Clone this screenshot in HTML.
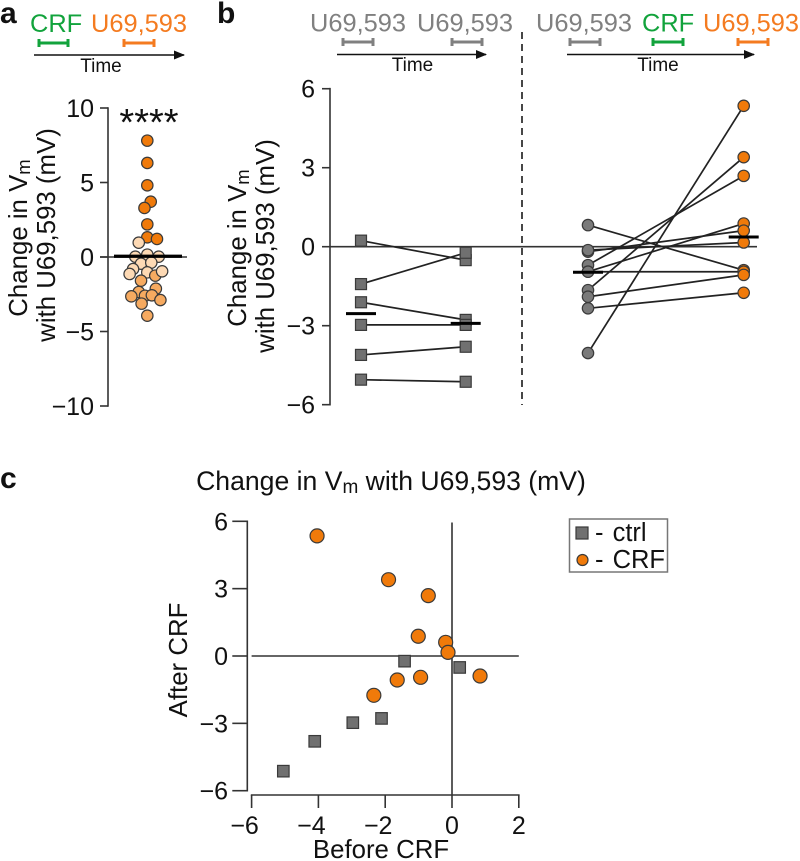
<!DOCTYPE html>
<html>
<head>
<meta charset="utf-8">
<style>
html,body{margin:0;padding:0;background:#fff;}
svg{display:block;font-family:"Liberation Sans",Arial,sans-serif;}
</style>
</head>
<body>
<svg id="fig" width="800" height="861" viewBox="0 0 800 861" xmlns="http://www.w3.org/2000/svg">
<defs>
<marker id="ah" markerWidth="11" markerHeight="9" refX="10" refY="4.5" orient="auto" markerUnits="userSpaceOnUse"><path d="M0 0L11 4.5L0 9Z" fill="#111"/></marker>
</defs>
<rect width="800" height="861" fill="#fff"/>
<g fill="#111" font-weight="bold" font-size="30">
<text x="0" y="23">a</text>
<text x="217" y="23">b</text>
<text x="0" y="488">c</text>
</g>
<g font-size="25.4">
<text x="30" y="32" fill="#12a33c">CRF</text>
<text x="91" y="32" fill="#f47b20">U69,593</text>
<text x="310" y="31.5" fill="#808080">U69,593</text>
<text x="417" y="31.5" fill="#808080">U69,593</text>
<text x="536" y="31.5" fill="#808080">U69,593</text>
<text x="642" y="31.5" fill="#12a33c">CRF</text>
<text x="703" y="31.5" fill="#f47b20">U69,593</text>
</g>
<g font-size="19" fill="#111" text-anchor="middle">
<text x="101" y="72">Time</text>
<text x="412.5" y="71">Time</text>
<text x="658" y="71">Time</text>
</g>
<g stroke="#111" stroke-width="1.6" marker-end="url(#ah)" fill="none">
<line x1="34" y1="55" x2="184" y2="55"/>
<line x1="337" y1="54.5" x2="486" y2="54.5"/>
<line x1="567" y1="54.5" x2="754" y2="54.5"/>
</g>
<g fill="none" stroke-width="3">
<path stroke="#12a33c" d="M39 39V47M39 43H68M68 39V47"/>
<path stroke="#f47b20" d="M124 39V47M124 43H154M154 39V47"/>
<path stroke="#808080" d="M343 38V46M343 42H373M373 38V46"/>
<path stroke="#808080" d="M452 38V46M452 42H482M482 38V46"/>
<path stroke="#808080" d="M570 38V46M570 42H600M600 38V46"/>
<path stroke="#12a33c" d="M653 38V46M653 42H683M683 38V46"/>
<path stroke="#f47b20" d="M738 38V46M738 42H768M768 38V46"/>
</g>
<line x1="522" y1="32" x2="522" y2="405" stroke="#333" stroke-width="1.8" stroke-dasharray="7 5"/>
<g font-size="25.8" fill="#111" text-anchor="middle">
<text transform="translate(27,238) rotate(-90)">Change in V<tspan font-size="18.5" dy="3">m</tspan></text>
<text transform="translate(55,235) rotate(-90)">with U69,593 (mV)</text>
<text transform="translate(246,248) rotate(-90)">Change in V<tspan font-size="18.5" dy="3">m</tspan></text>
<text transform="translate(274,246) rotate(-90)">with U69,593 (mV)</text>
<text transform="translate(187,660) rotate(-90)">After CRF</text>
<text x="381" y="858">Before CRF</text>
<text x="391" y="490" font-size="26.6">Change in V<tspan font-size="19" dy="3">m</tspan><tspan dy="-3"> with U69,593 (mV)</tspan></text>
</g>
<text x="149" y="135" font-size="38" fill="#111" text-anchor="middle">****</text>
<g id="panelA"></g>
<g id="panelB"></g>
<g id="panelC"></g>
<g>
<rect x="569.5" y="519" width="98" height="53" fill="#fff" stroke="#777" stroke-width="1.5"/>
<rect x="576" y="527" width="12" height="12" fill="#707070" stroke="#3a3a3a" stroke-width="1.2"/>
<text x="595" y="541" font-size="25.5" word-spacing="2" fill="#111">- ctrl</text>
<circle cx="582.5" cy="560" r="5.5" fill="#f07a0a" stroke="#3a3a3a" stroke-width="1.2"/>
<text x="595" y="568" font-size="25.5" word-spacing="2" fill="#111">- CRF</text>
</g>
</svg>
<script>
// Panel a: change in Vm values, with swarm offset in dot radii
var swarmValues = [7.81,6.31,4.81,3.71,3.29,2.19,1.32,1.21,0.96,0.02,0.16,0.02,-0.45,-0.38,-0.81,-1.14,-1.03,-1.25,-0.96,-1.59,-2.13,-2.35,-2.64,-2.60,-2.57,-2.89,-3.13,-3.94];
var swarmOffsets = [0,0,0,0.6,-0.5,0,0,1.7,-1.5,-2.1,0,2,-1.1,0.7,-2.5,-3.1,0,1.4,2.6,-1.1,1.5,-1.5,-2.8,-0.4,0.8,2.3,-1,0];
var swarmMedian = [0.05];
var axisATicks = [10,5,0,-5,-10];

// Panel b: paired values
var ctrlBefore = [0.23,-1.42,-2.11,-2.97,-4.11,-5.05];
var ctrlAfter = [-0.51,-0.23,-2.78,-2.97,-3.80,-5.13];
var ctrlMedians = [-2.54,-2.91];
var crfBefore = [-4.04,-1.65,-0.70,-0.95,-0.19,-0.13,0.82,-0.95,-1.90,-2.34];
var crfAfter = [5.35,3.40,2.69,0.88,0.61,0.16,-0.89,-0.95,-1.07,-1.75];
var crfMedians = [-0.97,0.37];
var axisBTicks = [6,3,0,-3,-6];

// Panel c: scatter values
var scatterCrfX = [-4.04,-1.90,-0.71,-1.01,-0.19,-0.12,0.84,-0.94,-1.64,-2.34];
var scatterCrfY = [5.35,3.40,2.69,0.88,0.61,0.16,-0.89,-0.95,-1.07,-1.75];
var axisCXTicks = [-6,-4,-2,0,2];
var axisCYTicks = [6,3,0,-3,-6];

var NS = 'http://www.w3.org/2000/svg';
var DARK = '#333';
function mk(tag, parent, attrs) {
  var e = document.createElementNS(NS, tag);
  for (var k in attrs) e.setAttribute(k, attrs[k]);
  parent.appendChild(e);
  return e;
}
function fmt(v) { return v < 0 ? '\u2212' + Math.abs(v) : String(v); }

// ---------- axis functions
function yA(v) { return 257 - v * 14.9; }
function xA(o) { return 147.3 + o * 5.7; }
function yB(v) { return 246.7 - v * 26.33; }
function xC(v) { return 452 + v * 33.4; }
function yC(v) { return 656 - v * 22.45; }
var xCtrlBefore = 361, xCtrlAfter = 465.7, xCrfBefore = 588, xCrfAfter = 743.7;

function line(parent, x1, y1, x2, y2, w, c) {
  return mk('line', parent, {x1:x1, y1:y1, x2:x2, y2:y2, stroke:c || DARK, 'stroke-width':w || 1.6});
}
function yAxis(parent, ticks, yf, xAxis, tickLen, labelRight, baseOff) {
  var axis = line(parent, xAxis, yf(ticks[0]) - 0.8, xAxis, yf(ticks[ticks.length - 1]) + 0.8);
  
  
  ticks.forEach(function (t) {
    var tk = line(parent, xAxis - tickLen, yf(t), xAxis, yf(t));
    
    
    var lb = mk('text', parent, {x:labelRight, y:yf(t) + baseOff, 'font-size':25, fill:'#111', 'text-anchor':'end'});
    lb.textContent = fmt(t);
    
    
  });
}
function square(parent, x, y, s) {
  return mk('rect', parent, {x:x - s / 2, y:y - s / 2, width:s, height:s, fill:'#707070', stroke:'#3a3a3a', 'stroke-width':1.2});
}
function dot(parent, x, y, r, fill) {
  return mk('circle', parent, {cx:x, cy:y, r:r, fill:fill, stroke:'#3a3a3a', 'stroke-width':1.2});
}

// ---------- Panel a
var gA = document.getElementById('panelA');
yAxis(gA, axisATicks, yA, 108, 8, 94, 9);
var zeroA = line(gA, 100, yA(0), 187, yA(0));


function swarmColor(v) {
  if (v >= 1.1) return '#f07a0a';
  if (v >= -1.2) return '#fdd9b4';
  return '#f6aa60';
}
swarmValues.forEach(function (v, i) {
  var c = dot(gA, xA(swarmOffsets[i]), yA(v), 5.7, swarmColor(v));
  
  
});
var medA = line(gA, 114, yA(swarmMedian[0]), 182, yA(swarmMedian[0]), 3.2, '#000');



// ---------- Panel b
var gB = document.getElementById('panelB');
yAxis(gB, axisBTicks, yB, 330, 8, 315, 9);
var zeroB = line(gB, 330, yB(0), 757, yB(0));


ctrlBefore.forEach(function (v, i) {
  var l = line(gB, xCtrlBefore, yB(v), xCtrlAfter, yB(ctrlAfter[i]), 1.7, '#222');
  
  
});
crfBefore.forEach(function (v, i) {
  var l = line(gB, xCrfBefore, yB(v), xCrfAfter, yB(crfAfter[i]), 1.7, '#222');
  
  
});
ctrlBefore.forEach(function (v) {
  var m = square(gB, xCtrlBefore, yB(v), 11);
  
  
});
ctrlAfter.forEach(function (v) {
  var m = square(gB, xCtrlAfter, yB(v), 11);
  
  
});
crfBefore.forEach(function (v) {
  var m = dot(gB, xCrfBefore, yB(v), 5.7, '#7a7a7a');
  
  
});
crfAfter.forEach(function (v) {
  var m = dot(gB, xCrfAfter, yB(v), 5.7, '#f07a0a');
  
  
});
[[xCtrlBefore, ctrlMedians[0]], [xCtrlAfter, ctrlMedians[1]], [xCrfBefore, crfMedians[0]], [xCrfAfter, crfMedians[1]]].forEach(function (p) {
  var b = line(gB, p[0] - 15, yB(p[1]), p[0] + 15, yB(p[1]), 3, '#000');
  
  
});

// ---------- Panel c
var gC = document.getElementById('panelC');
yAxis(gC, axisCYTicks, yC, 247.3, 15, 228, 9);
var xAxisC = line(gC, xC(axisCXTicks[0]) - 0.8, 795, xC(axisCXTicks[axisCXTicks.length - 1]) + 0.8, 795);


axisCXTicks.forEach(function (t) {
  var tk = line(gC, xC(t), 795, xC(t), 808);
  
  
  var lb = mk('text', gC, {x:xC(t) - (t < 0 ? 7 : 0), y:834, 'font-size':25, fill:'#111', 'text-anchor':'middle'});
  lb.textContent = fmt(t);
  
  
});
var zhC = line(gC, xC(-6), yC(0), xC(2), yC(0));


var zvC = line(gC, xC(0), 522.5, xC(0), 795);


ctrlBefore.forEach(function (v, i) {
  var m = square(gC, xC(v), yC(ctrlAfter[i]), 11.5);
  
  
});
scatterCrfX.forEach(function (v, i) {
  var m = dot(gC, xC(v), yC(scatterCrfY[i]), 7, '#f07a0a');
  
  
});
</script>
</body>
</html>
